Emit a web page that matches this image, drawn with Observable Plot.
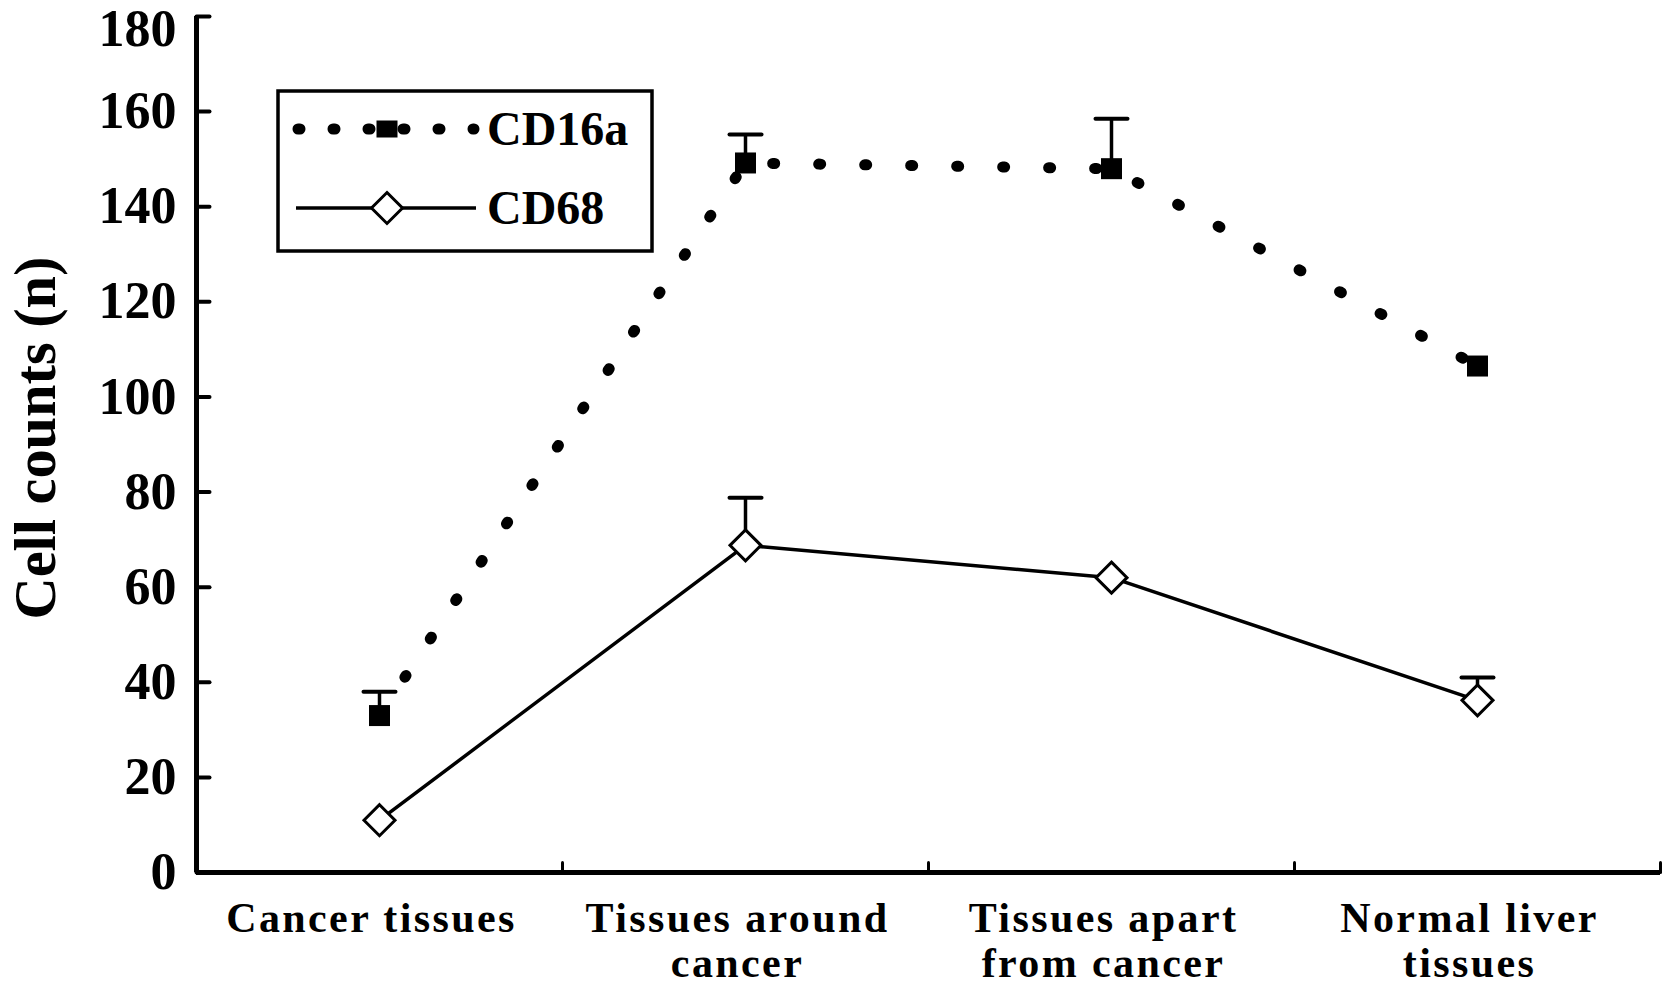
<!DOCTYPE html>
<html><head><meta charset="utf-8">
<script src="https://cdn.jsdelivr.net/npm/d3@7"></script>
<script src="https://cdn.jsdelivr.net/npm/@observablehq/plot@0.6"></script>
<style>body{margin:0;background:#fff}</style>
</head><body><div id="chart"></div>
<script>
const categories = ["Cancer tissues", "Tissues around\ncancer", "Tissues apart\nfrom cancer", "Normal liver\ntissues"];
const cd16a = [33, 149.2, 148, 106.5];
const cd16aErr = [5, 6, 10.5, 0];
const cd68 = [11, 68.8, 62, 36.2];
const cd68Err = [0, 10, 0, 4.8];
const yTicks = [0, 20, 40, 60, 80, 100, 120, 140, 160, 180];
const seriesNames = ["CD16a", "CD68"];
const yTitle = "Cell counts (n)";

const FONT = "'Liberation Serif', 'Times New Roman', serif";
const rows16 = categories.map((c, i) => ({pos: i + 0.5, value: cd16a[i], err: cd16aErr[i]}));
const rows68 = categories.map((c, i) => ({pos: i + 0.5, value: cd68[i], err: cd68Err[i]}));
const err16 = rows16.filter(d => d.err > 0);
const err68 = rows68.filter(d => d.err > 0);
const bounds = categories.map((c, i) => i + 1);

const diamond = {draw(ctx, size) { const h = Math.sqrt(size / 2); ctx.moveTo(0, -h); ctx.lineTo(h, 0); ctx.lineTo(0, h); ctx.lineTo(-h, 0); ctx.closePath(); }};
const lineShape = {draw(ctx, l) { ctx.moveTo(0, 0); ctx.lineTo(0, -l); }};
const dotStyle = {stroke: "black", strokeWidth: 11, strokeDasharray: "2 44", strokeLinecap: "round"};
const SQ_R = 21 / Math.sqrt(Math.PI);      // square side 21px
const DI_R = Math.sqrt(2 * 15.5 * 15.5 / Math.PI); // diamond half-diagonal 15.5px

const chart = Plot.plot({
  width: 1677, height: 994,
  marginLeft: 196, marginRight: 17, marginTop: 16, marginBottom: 122,
  x: {domain: [0, categories.length], axis: null},
  y: {domain: [0, 180], axis: null},
  style: {fontFamily: FONT, fontWeight: "bold", background: "white", color: "black"},
  marks: [
    Plot.ruleX([0], {strokeWidth: 5}),
    Plot.ruleY([0], {strokeWidth: 5}),
    Plot.vector(yTicks, {x: 0, y: d => d, length: 13, rotate: 90, anchor: "start", shape: lineShape, strokeWidth: 4}),
    Plot.vector(bounds, {x: d => d, y: 0, length: 10, rotate: 0, anchor: "start", shape: lineShape, strokeWidth: 3}),
    Plot.text(yTicks.filter(d => d < 180), {x: 0, y: d => d, text: d => String(d), textAnchor: "end", dx: -20, fontSize: 52, fontWeight: "bold"}),
    Plot.text(yTicks.filter(d => d >= 180), {x: 0, y: d => d, text: d => String(d), textAnchor: "end", dx: -20, dy: 13, fontSize: 52, fontWeight: "bold"}),
    Plot.text(categories, {x: (d, i) => i + 0.5, y: 0, text: d => d, lineAnchor: "top", dx: -8, dy: 27, fontSize: 42, lineHeight: 1.08, fontWeight: "bold"}),
    Plot.line(rows16, {x: "pos", y: "value", ...dotStyle}),
    Plot.line(rows68, {x: "pos", y: "value", stroke: "black", strokeWidth: 3.5}),
    Plot.ruleX(err16, {x: "pos", y1: "value", y2: d => d.value + d.err, strokeWidth: 3.5}),
    Plot.vector(err16, {x: "pos", y: d => d.value + d.err, length: 32, rotate: 90, anchor: "middle", shape: lineShape, strokeWidth: 4}),
    Plot.ruleX(err68, {x: "pos", y1: "value", y2: d => d.value + d.err, strokeWidth: 3.5}),
    Plot.vector(err68, {x: "pos", y: d => d.value + d.err, length: 32, rotate: 90, anchor: "middle", shape: lineShape, strokeWidth: 4}),
    Plot.dot(rows16, {x: "pos", y: "value", symbol: "square", r: SQ_R, fill: "black", stroke: "none"}),
    Plot.dot(rows68, {x: "pos", y: "value", symbol: diamond, r: DI_R, fill: "white", stroke: "black", strokeWidth: 3})
  ]
});

const svg = d3.select(chart);
svg.selectAll('[font-size="42"]').style("letter-spacing", "2.4px");
svg.selectAll('[font-size="42"] text').style("letter-spacing", "2.4px");

// Y-axis title
svg.append("text").attr("transform", "translate(35,438) rotate(-90)")
  .attr("text-anchor", "middle").attr("dominant-baseline", "central")
  .attr("font-family", FONT).attr("font-weight", "bold").attr("font-size", 60)
  .attr("textLength", 363).attr("lengthAdjust", "spacingAndGlyphs")
  .text(yTitle);

// Legend
const lg = svg.append("g").attr("font-family", FONT).attr("font-weight", "bold").attr("text-anchor", "start");
lg.append("rect").attr("x", 278).attr("y", 91).attr("width", 374).attr("height", 160)
  .attr("fill", "white").attr("stroke", "black").attr("stroke-width", 3.5);
const items = [
  {name: seriesNames[0], y: 129, dotted: true},
  {name: seriesNames[1], y: 208, dotted: false}
];
items.forEach(it => {
  if (it.dotted) {
    lg.append("line").attr("x1", 298).attr("x2", 474).attr("y1", it.y).attr("y2", it.y).attr("stroke", "black")
      .attr("stroke-width", 11).attr("stroke-dasharray", "2 33").attr("stroke-linecap", "round");
    lg.append("rect").attr("x", 387 - 10.5).attr("y", it.y - 8.5).attr("width", 21).attr("height", 17).attr("fill", "black");
  } else {
    lg.append("line").attr("x1", 296).attr("x2", 476).attr("y1", it.y).attr("y2", it.y).attr("stroke", "black").attr("stroke-width", 3.5);
    lg.append("path").attr("d", d3.symbol(diamond, Math.PI * DI_R * DI_R)()).attr("transform", `translate(387,${it.y})`)
      .attr("fill", "white").attr("stroke", "black").attr("stroke-width", 3);
  }
  lg.append("text").attr("x", 487).attr("y", it.y + 16).attr("font-size", 48).text(it.name);
});

document.getElementById("chart").append(chart);
</script>
</body></html>
